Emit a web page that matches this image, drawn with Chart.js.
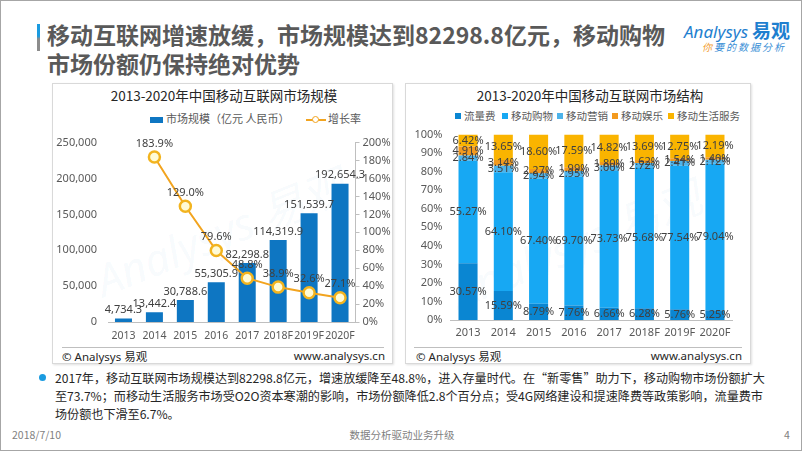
<!DOCTYPE html>
<html>
<head>
<meta charset="utf-8">
<script src="https://cdn.jsdelivr.net/npm/chart.js@4.4.1/dist/chart.umd.min.js"></script>
<style>
  body { margin:0; width:802px; height:451px; overflow:hidden; background:#fff; position:relative;
         font-family:"Noto Sans CJK SC","Noto Sans",sans-serif; color:#404040; }
  .abs { position:absolute; }
  .frame { left:0; top:0; width:800px; height:449px; border:1px solid #a6a6a6; }
  .accent { left:37px; top:24px; width:3px; height:27px; background:linear-gradient(#1a9be0 0%,#1a9be0 45%,#8c8c8c 55%,#8c8c8c 100%); }
  .title { left:47px; top:20px; font-size:23px; font-weight:bold; line-height:29px; color:#595959; white-space:nowrap; }
  .logo1 { left:684px; top:16px; font-size:17px; font-style:italic; color:#1f7fcf; white-space:nowrap; font-family:"Noto Sans","Noto Sans CJK SC",sans-serif; }
  .logo1 b { font-style:normal; font-size:19px; margin-left:4px; }
  .logo2 { left:702px; top:39px; font-size:10px; font-style:italic; color:#3a8fd6; letter-spacing:2px; white-space:nowrap; }
  .logo2 span { color:#f29b2e; }
  .panel { border:1px solid #d9d9d9; box-shadow:1px 1px 2px rgba(0,0,0,0.12); background:#fff; }
  .ctitle { font-size:13.5px; color:#262626; white-space:nowrap; transform:translateX(-50%); }
  .legend { font-size:11px; color:#595959; white-space:nowrap; }
  .litem { position:absolute; top:108px; font-size:10.5px; color:#595959; white-space:nowrap; }
  .litem i { display:inline-block; width:6px; height:6px; margin-right:3px; vertical-align:middle; position:relative; top:-1px; }
  .sep { height:1px; background:#bfbfbf; }
  .foot { font-size:11.5px; color:#262626; white-space:nowrap; font-family:"Noto Sans","Noto Sans CJK SC",sans-serif; }
  .wm { font-size:44px; font-style:italic; color:rgba(40,140,210,0.05); white-space:nowrap; transform:rotate(-22deg); transform-origin:left top; font-family:"Noto Sans","Noto Sans CJK SC",sans-serif; }
  .body { left:55px; top:369px; font-size:12.1px; line-height:18px; color:#262626; white-space:nowrap; }
  .dot { left:39px; top:374px; width:7px; height:7px; border-radius:50%; background:#1a9be0; }
  .small { font-size:10.5px; color:#7f7f7f; white-space:nowrap; }
</style>
</head>
<body>
<div class="abs frame"></div>
<div class="abs accent"></div>
<div class="abs title">移动互联网增速放缓，市场规模达到82298.8亿元，移动购物<br>市场份额仍保持绝对优势</div>
<div class="abs logo1">Analysys<b>易观</b></div>
<div class="abs logo2"><span>你</span>要的数据分析</div>

<!-- left panel -->
<div class="abs panel" style="left:52px;top:83px;width:339px;height:279px;"></div>
<div class="abs wm" style="left:85px;top:250px;">Analysys 易观</div>
<div class="abs ctitle" style="left:224px;top:85px;">2013-2020年中国移动互联网市场规模</div>
<div class="abs legend" style="left:150px;top:110px;">
  <span style="display:inline-block;width:13px;height:6px;background:#0e76c2;vertical-align:middle;margin-right:3px;"></span>市场规模（亿元 人民币）
  <span style="display:inline-block;position:relative;width:20px;height:8px;vertical-align:middle;margin:0 2px 0 14px;">
    <span style="position:absolute;left:0;top:3px;width:20px;height:2px;background:#f2a41f;"></span>
    <span style="position:absolute;left:6px;top:0;width:5px;height:5px;border:1.5px solid #f2a41f;border-radius:50%;background:#fff;"></span>
  </span>增长率
</div>
<canvas id="leftChart" class="abs" width="340" height="220" style="left:52px;top:125px;"></canvas>
<div class="abs sep" style="left:62px;top:347px;width:322px;"></div>
<div class="abs foot" style="left:62px;top:348px;">© Analysys 易观</div>
<div class="abs foot" style="left:385px;top:348px;transform:translateX(-100%);">www.analysys.cn</div>

<!-- right panel -->
<div class="abs panel" style="left:405px;top:83px;width:344px;height:279px;"></div>
<div class="abs wm" style="left:440px;top:262px;">Analysys 易观</div>
<div class="abs ctitle" style="left:590px;top:85px;">2013-2020年中国移动互联网市场结构</div>
<div id="rightLegend"></div>
<canvas id="rightChart" class="abs" width="345" height="225" style="left:405px;top:120px;"></canvas>
<div class="abs sep" style="left:414px;top:347px;width:328px;"></div>
<div class="abs foot" style="left:416px;top:348px;">© Analysys 易观</div>
<div class="abs foot" style="left:742px;top:348px;transform:translateX(-100%);">www.analysys.cn</div>

<!-- text -->
<div class="abs dot"></div>
<div class="abs body">2017年，移动互联网市场规模达到82298.8亿元，增速放缓降至48.8%，进入存量时代。在“新零售”助力下，移动购物市场份额扩大<br>至73.7%；而移动生活服务市场受O2O资本寒潮的影响，市场份额降低2.8个百分点；受4G网络建设和提速降费等政策影响，流量费市<br>场份额也下滑至6.7%。</div>
<div class="abs small" style="left:12px;top:427px;">2018/7/10</div>
<div class="abs small" style="left:402px;top:427px;transform:translateX(-50%);">数据分析驱动业务升级</div>
<div class="abs small" style="left:784px;top:427px;">4</div>

<script>
// ---- data ----
const years = ['2013', '2014', '2015', '2016', '2017', '2018F', '2019F', '2020F'];
const marketSize = [4734.3, 13442.4, 30788.6, 55305.9, 82298.8, 114319.9, 151539.7, 192654.3];
const growthRate = [null, 183.9, 129.0, 79.6, 48.8, 38.9, 32.6, 27.1];

const segNames = ['流量费', '移动购物', '移动营销', '移动娱乐', '移动生活服务'];
const trafficFee = [30.57, 15.59, 8.79, 7.76, 6.66, 6.28, 5.76, 5.25];
const shopping = [55.27, 64.10, 67.40, 69.70, 73.73, 75.68, 77.54, 79.04];
const marketing = [2.84, 3.51, 2.94, 2.95, 3.00, 2.72, 2.41, 2.12];
const entertainment = [4.91, 3.14, 2.27, 1.99, 1.80, 1.62, 1.54, 1.40];
const lifeService = [6.42, 13.65, 18.60, 17.59, 14.82, 13.69, 12.75, 12.19];
const segValues = [trafficFee, shopping, marketing, entertainment, lifeService];

const segColors = ['#0a86d2', '#17a8f3', '#4db3ea', '#f39a1e', '#fab400'];
const legendX = [455, 502, 557, 612, 668];
const FONT = "'Noto Sans','Noto Sans CJK SC',sans-serif";
const tickFont = { family: FONT, size: 11 };

function fixW(w) { return function (s) { s.width = w; }; }
function fixH(h) { return function (s) { s.height = h; }; }

// labels on top of bars / points
const leftLabels = {
  id: 'leftLabels',
  afterDatasetsDraw(chart) {
    const ctx = chart.ctx;
    ctx.save();
    ctx.font = '11px ' + FONT;
    ctx.fillStyle = '#404040';
    ctx.textAlign = 'center';
    ctx.textBaseline = 'bottom';
    chart.getDatasetMeta(0).data.forEach(function (el, i) {
      const v = marketSize[i];
      ctx.fillText(v.toLocaleString('en-US', { minimumFractionDigits: 1 }), el.x, el.y - 3);
    });
    chart.getDatasetMeta(1).data.forEach(function (el, i) {
      const v = growthRate[i];
      if (v == null) return;
      ctx.fillText(v.toFixed(1) + '%', el.x, el.y - 8);
    });
    ctx.restore();
  }
};

new Chart(document.getElementById('leftChart'), {
  data: {
    labels: years,
    datasets: [
      { type: 'bar', label: '市场规模（亿元 人民币）', data: marketSize, backgroundColor: '#0e76c2',
        yAxisID: 'y', order: 1, barPercentage: 0.55, categoryPercentage: 1 },
      { type: 'line', label: '增长率', data: growthRate, yAxisID: 'y1', order: 0,
        borderColor: '#f2a41f', borderWidth: 2, pointRadius: 5.5, pointBorderWidth: 2.5,
        pointBackgroundColor: '#fffbd6', pointBorderColor: '#f2b41f', tension: 0 }
    ]
  },
  options: {
    responsive: false, animation: false,
    layout: { padding: { top: 10.5, left: 0, right: 0, bottom: 0 } },
    plugins: { legend: { display: false }, tooltip: { enabled: false } },
    scales: {
      x: { grid: { display: false, drawTicks: false }, border: { color: '#bfbfbf' },
           ticks: { color: '#595959', font: { family: FONT, size: 10.5 }, padding: 8, maxRotation: 0, autoSkip: false },
           afterFit: fixH(23) },
      y: { position: 'left', min: 0, max: 250000, grid: { display: false, drawTicks: false },
           border: { display: false },
           ticks: { stepSize: 50000, color: '#595959', font: tickFont, padding: 11,
                    callback: v => v.toLocaleString('en-US') }, afterFit: fixW(56) },
      y1: { position: 'right', min: 0, max: 200,
            grid: { drawOnChartArea: false, drawTicks: true, tickLength: 4, color: '#bfbfbf' },
            border: { color: '#bfbfbf' },
            ticks: { stepSize: 20, color: '#595959', font: tickFont, padding: 3, callback: v => v + '%' },
            afterFit: fixW(36.5) }
    }
  },
  plugins: [leftLabels]
});

// ---- right chart: stacked structure ----
const segLabels = {
  id: 'segLabels',
  afterDatasetsDraw(chart) {
    const ctx = chart.ctx;
    ctx.save();
    ctx.font = '11px ' + FONT;
    ctx.fillStyle = '#404040';
    ctx.textAlign = 'center';
    ctx.textBaseline = 'middle';
    chart.data.datasets.forEach(function (ds, d) {
      chart.getDatasetMeta(d).data.forEach(function (el, i) {
        ctx.fillText(segValues[d][i].toFixed(2) + '%', el.x, (el.y + el.base) / 2);
      });
    });
    ctx.restore();
  }
};

new Chart(document.getElementById('rightChart'), {
  type: 'bar',
  data: {
    labels: years,
    datasets: segNames.map(function (name, k) {
      return { label: name, data: segValues[k], backgroundColor: segColors[k],
               barPercentage: 0.54, categoryPercentage: 1 };
    })
  },
  options: {
    responsive: false, animation: false,
    layout: { padding: { top: 8, left: 0, right: 17.4, bottom: 0 } },
    plugins: { legend: { display: false }, tooltip: { enabled: false } },
    scales: {
      x: { stacked: true, grid: { display: false, drawTicks: false }, border: { color: '#bfbfbf' },
           ticks: { color: '#595959', font: tickFont, padding: 6, maxRotation: 0, autoSkip: false },
           afterFit: fixH(25) },
      y: { stacked: true, min: 0, max: 100, grid: { display: false, drawTicks: false },
           border: { display: false },
           ticks: { stepSize: 10, color: '#595959', font: tickFont, padding: 8, callback: v => v + '%' },
           afterFit: fixW(45.4) }
    }
  },
  plugins: [segLabels]
});

// legend for the right chart
document.getElementById('rightLegend').innerHTML = segNames.map(function (n, k) {
  return '<div class="litem" style="left:' + legendX[k] + 'px"><i style="background:' + segColors[k] + '"></i>' + n + '</div>';
}).join('');
</script>
</body>
</html>
